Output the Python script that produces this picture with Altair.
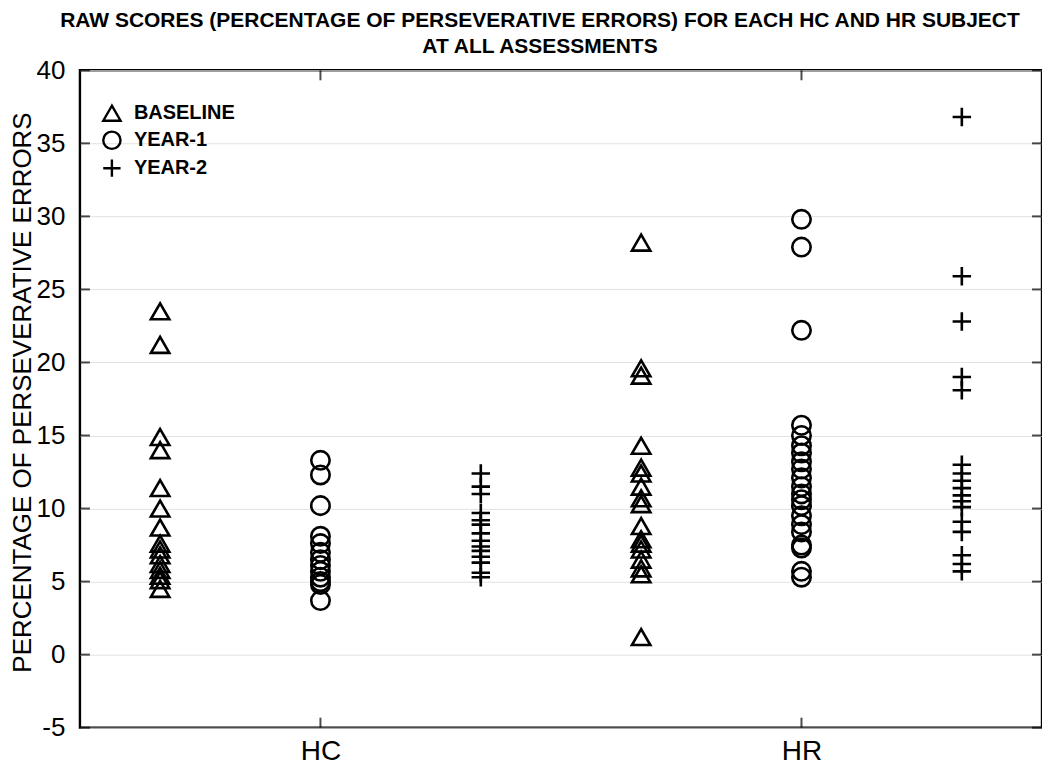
import altair as alt
import pandas as pd

groups = ["HC", "HR"]
assessments = ["BASELINE", "YEAR-1", "YEAR-2"]

hc_baseline = [23.5, 21.2, 14.9, 14.0, 11.4, 10.0, 8.7, 7.6, 7.2, 6.8, 6.2, 5.8, 5.4, 5.1, 4.5]
hc_year1 = [13.3, 12.3, 10.2, 8.1, 7.6, 7.0, 6.5, 6.1, 5.7, 5.3, 5.0, 4.8, 3.7]
hc_year2 = [12.4, 11.5, 11.0, 9.7, 9.2, 8.9, 8.3, 7.8, 7.4, 7.1, 6.7, 6.3, 5.6, 5.3]
hr_baseline = [28.2, 19.6, 19.1, 14.3, 12.8, 12.4, 11.5, 10.7, 10.3, 8.8, 7.9, 7.6, 7.2, 6.5, 5.9, 5.5, 1.2]
hr_year1 = [29.8, 27.9, 22.2, 15.7, 15.0, 14.3, 13.8, 13.2, 12.7, 12.1, 11.5, 11.0, 10.6, 10.2,
            9.5, 8.9, 8.4, 7.5, 7.3, 5.7, 5.3]
hr_year2 = [36.8, 25.9, 22.8, 19.0, 18.1, 13.0, 12.4, 11.9, 11.4, 10.9, 10.5, 10.1, 9.1, 8.4, 6.8, 6.2, 5.7]

y_ticks = [-5, 0, 5, 10, 15, 20, 25, 30, 35, 40]
group_pos = [1, 2]
assess_offset = [-1 / 3, 0, 1 / 3]
x_domain = [0.5, 2.5]
y_domain = [-5, 40]

series = {
    ("HC", "BASELINE"): hc_baseline,
    ("HC", "YEAR-1"): hc_year1,
    ("HC", "YEAR-2"): hc_year2,
    ("HR", "BASELINE"): hr_baseline,
    ("HR", "YEAR-1"): hr_year1,
    ("HR", "YEAR-2"): hr_year2,
}

rows = []
for (g, a), vals in series.items():
    xp = group_pos[groups.index(g)] + assess_offset[assessments.index(a)]
    for v in vals:
        rows.append({"group": g, "assessment": a, "x": xp, "value": v})
df = pd.DataFrame(rows)

FONT = "Liberation Sans, Arial, Helvetica, sans-serif"

x_scale = alt.Scale(domain=x_domain, nice=False, zero=False)
y_scale = alt.Scale(domain=y_domain, nice=False, zero=False)

points = alt.Chart(df).mark_point(
    filled=False, color="black", strokeWidth=2.6, size=340, opacity=1
).encode(
    x=alt.X("x:Q", scale=x_scale,
            axis=alt.Axis(values=group_pos, labelExpr="datum.value == 1 ? 'HC' : 'HR'",
                          title=None, grid=False, ticks=False, domain=False,
                          labelFontSize=28, labelFont=FONT, labelColor="black", labelPadding=10)),
    y=alt.Y("value:Q", scale=y_scale,
            axis=alt.Axis(values=y_ticks, labelExpr="datum.value + ''",
                          title="PERCENTAGE OF PERSEVERATIVE ERRORS",
                          grid=True, gridColor="#e2e2e2", gridWidth=1, ticks=False, domain=False,
                          labelFontSize=26, labelFont=FONT, labelColor="black", labelPadding=15,
                          titleFontSize=26, titleFont=FONT, titleFontWeight="normal",
                          titleColor="black", titleX=-70, titleY=322,
                          titleBaseline="top", titleAngle=270)),
    shape=alt.Shape("assessment:N",
                    scale=alt.Scale(domain=assessments,
                                    range=["triangle-up", "circle", "M-1,0L1,0M0,-1L0,1"]),
                    legend=alt.Legend(title=None, orient="none", legendX=22, legendY=33,
                                      symbolSize=300, symbolStrokeWidth=2.4,
                                      symbolStrokeColor="black", symbolFillColor="transparent",
                                      labelFontSize=20, labelFont=FONT, labelFontWeight="bold",
                                      labelColor="black", labelOffset=12, rowPadding=0)),
)

# inward ticks along the frame
ytick_df = pd.DataFrame({"v": y_ticks, "xl": [x_domain[0]] * len(y_ticks), "xr": [x_domain[1]] * len(y_ticks)})
xtick_df = pd.DataFrame({"g": group_pos, "yb": [y_domain[0]] * 2, "yt": [y_domain[1]] * 2})

left_ticks = alt.Chart(ytick_df).mark_tick(orient="horizontal", size=10, thickness=2, color="black",
                                           xOffset=5).encode(
    x=alt.X("xl:Q", scale=x_scale), y=alt.Y("v:Q", scale=y_scale))
right_ticks = alt.Chart(ytick_df).mark_tick(orient="horizontal", size=10, thickness=2, color="black",
                                            xOffset=-5).encode(
    x=alt.X("xr:Q", scale=x_scale), y=alt.Y("v:Q", scale=y_scale))
bottom_ticks = alt.Chart(xtick_df).mark_tick(orient="vertical", size=10, thickness=2, color="black",
                                             yOffset=-5).encode(
    x=alt.X("g:Q", scale=x_scale), y=alt.Y("yb:Q", scale=y_scale))
top_ticks = alt.Chart(xtick_df).mark_tick(orient="vertical", size=10, thickness=2, color="black",
                                          yOffset=5).encode(
    x=alt.X("g:Q", scale=x_scale), y=alt.Y("yt:Q", scale=y_scale))

chart = alt.layer(points, left_ticks, right_ticks, bottom_ticks, top_ticks).properties(
    width=963, height=658,
    background="white",
    autosize=alt.AutoSizeParams(type="none"),
    padding={"left": 72, "top": 62, "right": 0, "bottom": 37},
    title=alt.TitleParams(
        text=["RAW SCORES (PERCENTAGE OF PERSEVERATIVE ERRORS) FOR EACH HC AND HR SUBJECT",
              "AT ALL ASSESSMENTS"],
        font=FONT, fontSize=21, fontWeight="bold", color="black",
        anchor="middle", frame="group", offset=0, lineHeight=26, dx=-21),
).configure_view(stroke="black", strokeWidth=2.4)

chart.save("out.html", embed_options={"renderer": "svg", "actions": False})
